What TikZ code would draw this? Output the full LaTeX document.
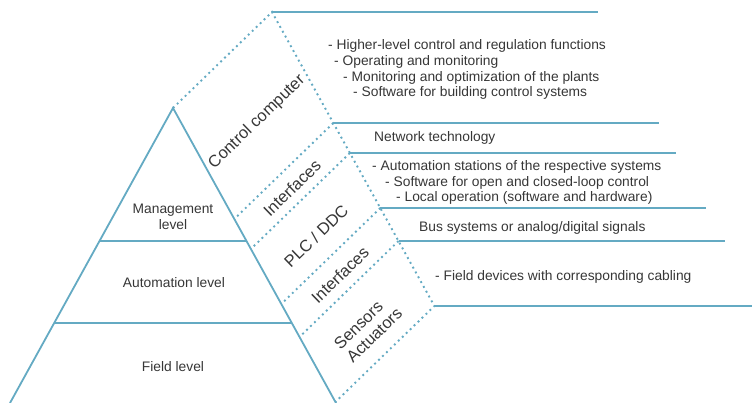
\documentclass[tikz,border=0pt]{standalone}
\usepackage{fontspec}
\setmainfont{Liberation Sans}
\definecolor{lineblue}{RGB}{100,170,195}
\definecolor{txt}{RGB}{55,55,55}
\begin{document}
\begin{tikzpicture}[x=1pt,y=-1pt,
  solidline/.style={draw=lineblue, line width=1.8pt},
  dotline/.style={draw=lineblue, line width=1.9pt, dash pattern=on 1.9pt off 3.6pt},
  lvl/.style={font=\fontsize{13.8}{16}\selectfont, text=txt, align=center, inner sep=0pt},
  rot/.style={font=\fontsize{16.5}{18.3}\selectfont, text=txt, rotate=44, inner sep=0pt},
  desc/.style={font=\fontsize{13.8}{16}\selectfont, text=txt, anchor=base west, inner sep=0pt}]
\fill[white] (0,0) rectangle (752,403);
\useasboundingbox (0,0) rectangle (752,403);
% pyramid
\coordinate (A) at (173,108);
\coordinate (BL) at (10,403);
\coordinate (BR) at (336,403);
\coordinate (L1) at (99.5,241);
\coordinate (R1) at (246.5,241);
\coordinate (L2) at (54,323);
\coordinate (R2) at (292,323);
% outer edge of band
\coordinate (O0) at (272,12);
\coordinate (O1) at (333.3,123);
\coordinate (O2) at (349.9,153);
\coordinate (O3) at (380.3,208);
\coordinate (O4) at (398.5,241);
\coordinate (O5) at (434.4,306);
% inner points on pyramid edge
\coordinate (I1) at (234.3,219);
\coordinate (I2) at (250.9,249);
\coordinate (I3) at (281.3,304);
\coordinate (I4) at (299.5,337);
\coordinate (I5) at (335.4,402);
% right ends
\coordinate (E0) at (598,12);
\coordinate (E1) at (659,123);
\coordinate (E2) at (676,153);
\coordinate (E3) at (706,208);
\coordinate (E4) at (725,241);
\coordinate (E5) at (752,306);

\draw[solidline] (BL) -- (A) -- (BR);
\draw[solidline] (L1) -- (R1);
\draw[solidline] (L2) -- (R2);
\foreach \k in {0,...,5} { \draw[solidline] (O\k) -- (E\k); }

\draw[dotline] (A) -- (O0) -- (O5) -- (I5);
\foreach \k in {1,...,4} { \draw[dotline] (O\k) -- (I\k); }

% level labels
\node[lvl] (mgmt) at (173,217) {Management\\level};
\node[lvl] (auto) at (174,283) {Automation level};
\node[lvl] (field) at (173,367) {Field level};

% rotated band labels
\node[rot] (cc) at (257,122) {Control computer};
\node[rot] (if1) at (292,188) {Interfaces};
\node[rot] (plc) at (316,236) {PLC / DDC};
\node[rot] (if2) at (340,275) {Interfaces};
\node[rot, align=left] (sa) at (368,328.5) {Sensors\\Actuators};

% descriptions
\node[desc] (d1) at (328,50) {- Higher-level control and regulation functions};
\node[desc] (d2) at (334,66) {- Operating and monitoring};
\node[desc] (d3) at (343,82) {- Monitoring and optimization of the plants};
\node[desc] (d4) at (353,97) {- Software for building control systems};
\node[desc] (d5) at (374,142) {Network technology};
\node[desc] (d6) at (372,171) {- Automation stations of the respective systems};
\node[desc] (d7) at (385,187) {- Software for open and closed-loop control};
\node[desc] (d8) at (396,202) {- Local operation (software and hardware)};
\node[desc] (d9) at (419,232) {Bus systems or analog/digital signals};
\node[desc] (d10) at (435,280) {- Field devices with corresponding cabling};
\end{tikzpicture}
\end{document}
